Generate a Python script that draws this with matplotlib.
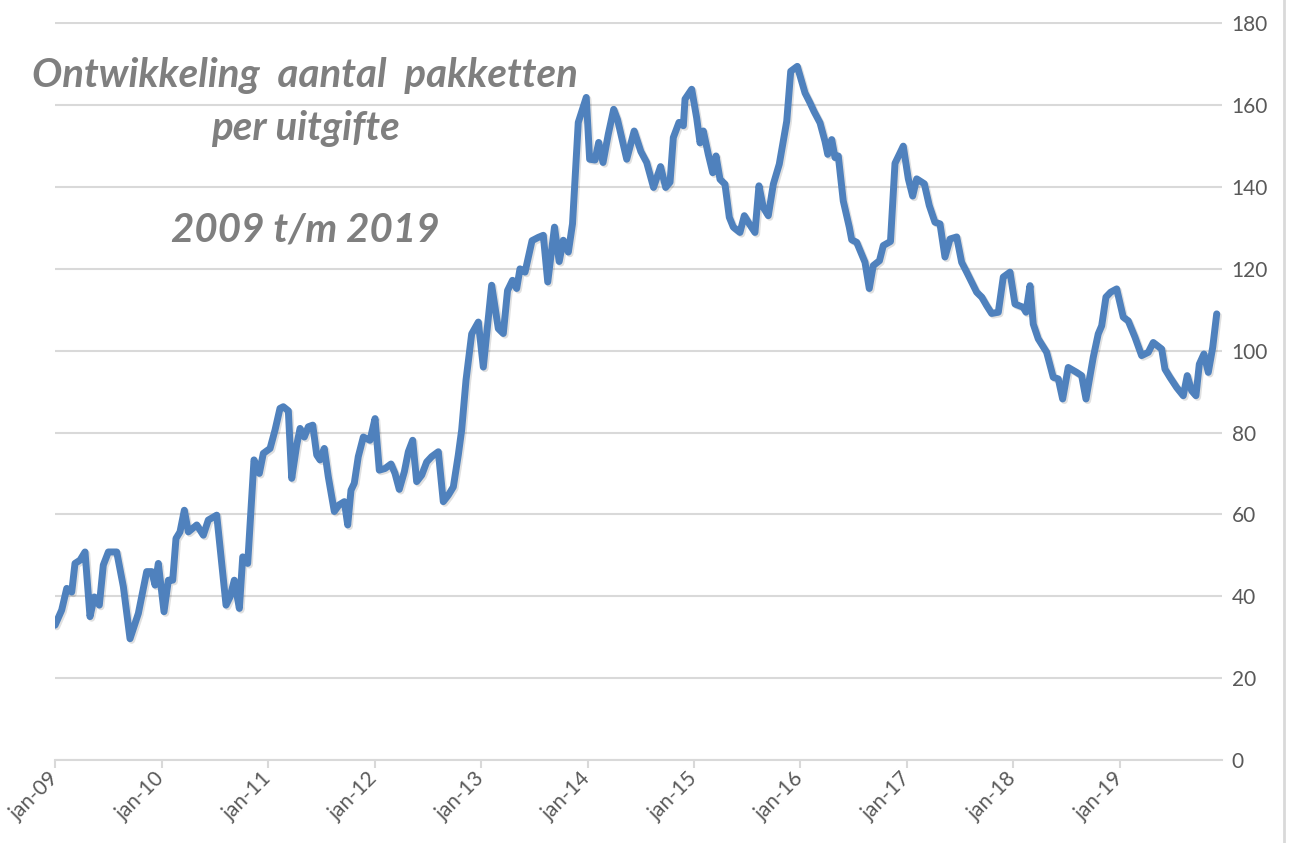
import numpy as np
import matplotlib
import matplotlib.pyplot as plt
import matplotlib.patheffects as pe
from matplotlib.lines import Line2D

font = {'family': 'Lato', 'size': 12}
matplotlib.rc('font', **font)

## maanden sinds jan-09 (moment van uitgifte) en aantal pakketten per uitgifte
maand = [0.0, 0.75, 1.32, 1.88, 2.25, 2.82, 3.38, 3.94, 4.43, 4.99,
	5.44, 6.01, 6.95, 7.70, 8.45, 9.39, 10.33, 10.90, 11.27, 11.64,
	12.28, 12.77, 13.26, 13.63, 14.08, 14.57, 15.02, 15.97, 16.71, 17.27,
	18.22, 19.27, 19.72, 20.20, 20.77, 21.15, 21.71, 22.42, 23.02, 23.47,
	24.23, 24.79, 25.35, 25.72, 26.29, 26.67, 27.23, 27.61, 28.09, 28.54,
	29.04, 29.49, 29.86, 30.34, 30.79, 31.47, 32.00, 32.60, 32.98, 33.35,
	33.72, 34.17, 34.74, 35.49, 36.06, 36.54, 37.18, 37.86, 38.31, 38.79,
	39.36, 39.81, 40.30, 40.75, 41.32, 41.88, 42.44, 43.19, 43.75, 44.32,
	44.88, 45.44, 45.82, 46.31, 46.95, 47.70, 48.26, 49.20, 49.95, 50.51,
	50.99, 51.55, 52.02, 52.39, 52.96, 53.75, 54.46, 55.02, 55.52, 56.28,
	56.81, 57.27, 57.84, 58.31, 58.96, 59.86, 60.24, 60.85, 61.26, 61.75,
	62.34, 62.95, 63.38, 64.42, 65.26, 66.01, 66.67, 67.44, 68.23, 68.81,
	69.30, 69.67, 70.31, 70.80, 70.99, 71.74, 72.30, 72.68, 73.05, 73.61,
	74.11, 74.48, 74.93, 75.49, 75.98, 76.43, 77.18, 77.67, 78.23, 78.87,
	79.32, 79.81, 80.37, 80.94, 81.61, 82.45, 82.90, 83.64, 84.51, 85.07,
	85.52, 86.20, 86.76, 87.07, 87.52, 87.89, 88.26, 88.82, 89.50, 89.77,
	90.33, 91.27, 91.75, 92.20, 92.90, 93.33, 94.14, 94.65, 95.58, 96.15,
	96.64, 97.09, 97.95, 98.51, 99.15, 99.72, 100.28, 100.85, 101.60, 102.16,
	102.73, 103.85, 104.42, 104.98, 105.54, 106.29, 106.85, 107.61, 108.17, 109.10,
	109.41, 109.86, 110.23, 110.79, 111.74, 112.48, 113.05, 113.54, 114.17, 115.12,
	115.68, 116.17, 116.99, 117.55, 117.94, 118.42, 118.95, 119.63, 120.37, 120.93,
	121.69, 122.44, 123.19, 123.75, 124.70, 125.07, 125.63, 126.39, 127.13, 127.58,
	128.08, 128.56, 128.94, 129.46, 129.95, 130.45, 130.90]
pakketten = [32.9, 36.6, 41.9, 41.0, 48.0, 48.8, 50.8, 35.0, 39.8, 37.8,
	47.6, 50.8, 50.8, 42.3, 29.6, 35.8, 46.0, 46.0, 42.7, 48.0,
	36.2, 43.9, 43.9, 54.1, 55.7, 61.0, 55.7, 57.4, 54.9, 58.6,
	59.8, 37.8, 39.8, 43.9, 37.0, 49.6, 48.0, 73.3, 70.0, 74.9,
	76.1, 80.6, 85.9, 86.3, 85.3, 68.8, 76.9, 81.0, 78.9, 81.4,
	81.8, 74.5, 73.3, 76.1, 69.2, 60.7, 62.3, 63.1, 57.4, 65.9,
	67.6, 74.1, 78.9, 78.1, 83.4, 70.8, 71.2, 72.3, 70.0, 66.1,
	70.4, 75.3, 78.1, 68.0, 69.6, 72.8, 74.1, 75.3, 63.1, 64.7,
	66.7, 74.5, 80.6, 92.8, 104.1, 107.0, 96.0, 116.0, 105.4, 104.2,
	114.7, 117.2, 115.2, 120.0, 119.2, 126.9, 127.7, 128.2, 116.8, 130.2,
	121.8, 127.0, 124.1, 131.0, 155.8, 161.9, 146.8, 146.6, 150.9, 146.0,
	152.9, 159.0, 156.5, 146.8, 153.7, 148.7, 146.0, 139.9, 145.0, 139.9,
	141.2, 152.1, 155.8, 155.0, 161.5, 163.9, 156.9, 150.8, 153.7, 148.0,
	143.5, 147.6, 141.9, 140.7, 132.6, 130.2, 128.9, 133.0, 131.0, 128.9,
	140.3, 135.0, 133.0, 140.7, 145.6, 156.1, 168.3, 169.5, 163.0, 160.6,
	158.5, 155.7, 151.2, 148.0, 151.6, 147.2, 147.6, 136.6, 130.2, 127.1,
	126.5, 121.6, 115.2, 120.8, 122.0, 125.7, 126.7, 145.8, 150.0, 142.0,
	137.8, 142.0, 140.8, 135.5, 131.4, 131.0, 122.9, 127.3, 127.8, 121.6,
	119.2, 114.3, 113.1, 111.0, 109.1, 109.4, 118.0, 119.2, 111.4, 110.6,
	109.4, 115.9, 106.5, 102.9, 99.6, 93.5, 93.1, 88.2, 95.9, 94.7,
	93.9, 88.2, 98.4, 104.1, 106.1, 113.1, 114.3, 115.1, 108.2, 107.3,
	103.3, 98.8, 99.6, 102.0, 100.4, 95.5, 93.5, 91.0, 89.0, 93.9,
	90.2, 89.0, 96.7, 99.2, 94.7, 100.8, 109.0]

jaren = list(range(2009, 2020))
jaar_labels = ['jan-%02d' % (j % 100) for j in jaren]
y_ticks = np.arange(0, 181, 20)

titel = ['Ontwikkeling  aantal  pakketten', 'per uitgifte', '2009 t/m 2019']

grijs = '#d9d9d9'
tekst = '#595959'

x = 2009 + np.array(maand)/12.

fig = plt.figure(figsize=(13.01, 8.43), dpi=100)
ax = fig.add_axes([0.0423, 0.0987, 0.897, 0.875])

ax.plot(x, pakketten, color='#4f81bd', lw=5, solid_joinstyle='round',
	solid_capstyle='round',
	path_effects=[pe.SimpleLineShadow(offset=(1.2, -1.2), alpha=0.12,
		shadow_color='k'), pe.Normal()])

ax.set_xlim(2009, 2009 + 131.5/12)
ax.set_ylim(0, 180.3)

ax.yaxis.tick_right()
ax.set_yticks(y_ticks)
ax.tick_params(axis='y', length=0, pad=7, labelsize=15, labelcolor=tekst)
ax.set_xticks(jaren)
ax.set_xticklabels(jaar_labels, rotation=45, ha='right', va='center',
	rotation_mode='anchor')
ax.tick_params(axis='x', length=6, width=1.5, color=grijs, labelcolor=tekst,
	labelsize=15, pad=5)

ax.grid(axis='y', color=grijs, lw=1.5)
ax.set_axisbelow(True)
for s in ['top', 'right', 'left']:
	ax.spines[s].set_visible(False)
ax.spines['bottom'].set_color(grijs)
ax.spines['bottom'].set_linewidth(1.5)

# titel in de grafiek
for tt, yy in zip(titel, [0.911, 0.848, 0.727]):
	fig.text(0.2344, yy, tt, ha='center', va='center', fontsize=29,
		fontweight='bold', style='italic', color='#7f7f7f')

# rand rechts
fig.add_artist(Line2D([1284/1301., 1284/1301.], [0, 1],
	transform=fig.transFigure, color=grijs, lw=2))

fig.savefig('out.png', dpi=100)
